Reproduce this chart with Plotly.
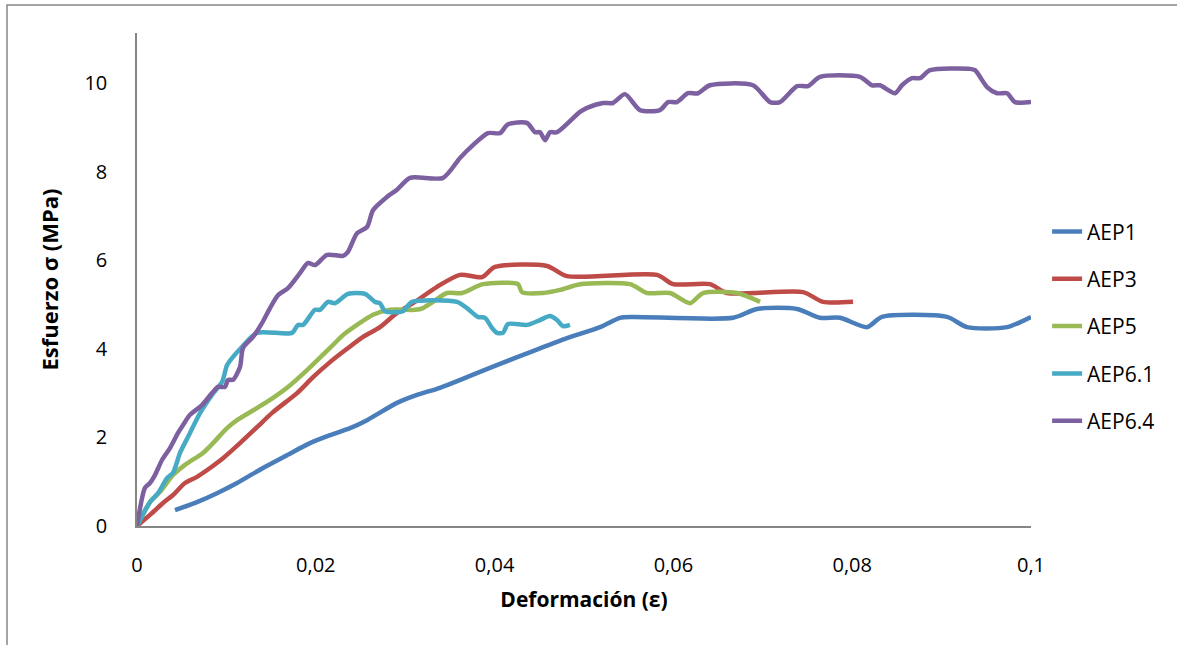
import plotly.graph_objects as go

# AEP1
aep1_x = [0.00425, 0.00671, 0.00895, 0.01119, 0.01409, 0.01678, 0.01935, 0.02159, 0.02383, 0.02573,
          0.02908, 0.03132, 0.03389, 0.03691, 0.0406, 0.0443, 0.0481, 0.05179, 0.05403, 0.05548,
          0.06667, 0.06935, 0.07383, 0.0764, 0.07864, 0.08166, 0.08333, 0.0906, 0.09284, 0.09732, 0.1]
aep1_y = [0.36, 0.54, 0.74, 0.97, 1.31, 1.60, 1.87, 2.05, 2.21, 2.39,
          2.78, 2.96, 3.12, 3.36, 3.66, 3.95, 4.24, 4.49, 4.70, 4.72,
          4.70, 4.90, 4.90, 4.70, 4.70, 4.49, 4.72, 4.72, 4.49, 4.49, 4.72]

# AEP3
aep3_x = [0, 0.00145, 0.00291, 0.00403, 0.00537, 0.00671, 0.00817, 0.00962, 0.01152, 0.01342,
          0.01521, 0.0179, 0.01969, 0.02159, 0.02349, 0.02528, 0.02718, 0.02908, 0.03087, 0.03356,
          0.03613, 0.03859, 0.04004, 0.04586, 0.0481, 0.05817, 0.05996, 0.06409, 0.066, 0.0745,
          0.07673, 0.08009]
aep3_y = [0, 0.25, 0.52, 0.70, 0.97, 1.11, 1.31, 1.53, 1.87, 2.23,
          2.57, 3.00, 3.36, 3.70, 4.00, 4.27, 4.49, 4.81, 5.03, 5.40,
          5.67, 5.62, 5.85, 5.87, 5.64, 5.67, 5.46, 5.46, 5.26, 5.28,
          5.06, 5.06]

# AEP5
aep5_x = [0, 0.00145, 0.00257, 0.00403, 0.00537, 0.00738, 0.0085, 0.01007, 0.01119, 0.01454,
          0.01678, 0.01902, 0.02159, 0.02304, 0.02461, 0.0264, 0.0283, 0.0311, 0.03199, 0.03311,
          0.03468, 0.03635, 0.0387, 0.04262, 0.04306, 0.04541, 0.04732, 0.04955, 0.05515, 0.05705,
          0.05962, 0.06186, 0.06331, 0.06711, 0.06969]
aep5_y = [0, 0.54, 0.77, 1.15, 1.38, 1.65, 1.87, 2.21, 2.39, 2.80,
          3.12, 3.52, 4.02, 4.31, 4.54, 4.77, 4.88, 4.88, 4.92, 5.06,
          5.26, 5.26, 5.46, 5.46, 5.28, 5.26, 5.33, 5.46, 5.46, 5.26,
          5.26, 5.03, 5.26, 5.26, 5.06]

# AEP6.1
aep61_x = [0, 0.00145, 0.00235, 0.00336, 0.00403, 0.00481, 0.0057, 0.00705, 0.00839, 0.00951,
           0.01007, 0.01063, 0.01174, 0.01342, 0.01734, 0.01801, 0.01857, 0.01991, 0.02047, 0.02136,
           0.02215, 0.0236, 0.0255, 0.02662, 0.02718, 0.02774, 0.02975, 0.03076, 0.03579, 0.03691,
           0.03814, 0.03893, 0.03971, 0.04027, 0.04094, 0.0415, 0.04362, 0.04508, 0.0462, 0.04698,
           0.04765, 0.04843]
aep61_y = [0, 0.54, 0.74, 1.08, 1.20, 1.65, 2.01, 2.55, 2.96, 3.25,
           3.63, 3.79, 4.04, 4.36, 4.36, 4.54, 4.54, 4.88, 4.88, 5.06,
           5.03, 5.24, 5.24, 5.06, 5.03, 4.85, 4.85, 5.06, 5.06, 4.92,
           4.72, 4.70, 4.47, 4.36, 4.36, 4.56, 4.54, 4.65, 4.74, 4.65,
           4.51, 4.54]

# AEP6.4
aep64_x = [0, 0.00089, 0.00145, 0.00201, 0.0028, 0.00369, 0.00459, 0.00537, 0.00593, 0.00727,
           0.00839, 0.00906, 0.00984, 0.01018, 0.01074, 0.01152, 0.01186, 0.01298, 0.01398, 0.01488,
           0.01577, 0.01689, 0.01823, 0.01913, 0.01991, 0.02125, 0.02304, 0.0236, 0.02461, 0.02573,
           0.0264, 0.02796, 0.02908, 0.03054, 0.03423, 0.03613, 0.03758, 0.03926, 0.0406, 0.0415,
           0.04362, 0.04452, 0.04508, 0.04564, 0.0462, 0.04698, 0.04955, 0.05034, 0.05213, 0.05324,
           0.05459, 0.05626, 0.0585, 0.0594, 0.0604, 0.06163, 0.06275, 0.06409, 0.0689, 0.07081,
           0.07192, 0.07383, 0.07506, 0.0764, 0.08087, 0.08221, 0.08311, 0.08479, 0.08557, 0.08669,
           0.08758, 0.0887, 0.09318, 0.09374, 0.09508, 0.0962, 0.09732, 0.09821, 0.1]
aep64_y = [0, 0.86, 0.97, 1.15, 1.49, 1.76, 2.10, 2.35, 2.51, 2.73,
           3.00, 3.14, 3.14, 3.30, 3.30, 3.59, 4.02, 4.27, 4.58, 4.92,
           5.21, 5.37, 5.71, 5.94, 5.89, 6.12, 6.10, 6.19, 6.61, 6.75,
           7.13, 7.43, 7.59, 7.86, 7.86, 8.31, 8.60, 8.87, 8.87, 9.07,
           9.10, 8.89, 8.89, 8.71, 8.89, 8.89, 9.35, 9.44, 9.55, 9.55,
           9.75, 9.39, 9.39, 9.57, 9.57, 9.77, 9.77, 9.95, 9.95, 9.57,
           9.57, 9.93, 9.93, 10.14, 10.14, 9.95, 9.95, 9.77, 9.95, 10.11,
           10.11, 10.29, 10.32, 10.29, 9.91, 9.77, 9.77, 9.57, 9.57]

x_ticks = [0, 0.02, 0.04, 0.06, 0.08, 0.1]
x_labels = ["0", "0,02", "0,04", "0,06", "0,08", "0,1"]
y_ticks = [0, 2, 4, 6, 8, 10]

series = [
    ("AEP1", aep1_x, aep1_y, "#4A7EBB"),
    ("AEP3", aep3_x, aep3_y, "#BE4B48"),
    ("AEP5", aep5_x, aep5_y, "#98B954"),
    ("AEP6.1", aep61_x, aep61_y, "#46AAC5"),
    ("AEP6.4", aep64_x, aep64_y, "#7D60A0"),
]

fig = go.Figure()
for i, (name, xs, ys, col) in enumerate(series):
    fig.add_trace(go.Scatter(
        x=xs, y=ys, name=name, mode="lines",
        line=dict(color=col, width=4.5, shape="spline", smoothing=0.7),
        legendgroup=f"g{i}",
    ))

font_family = "Open Sans, Noto Sans, sans-serif"

fig.update_layout(
    width=1177, height=645,
    margin=dict(l=137, r=146, t=33, b=119),
    paper_bgcolor="white", plot_bgcolor="white",
    font=dict(family=font_family, size=20, color="black"),
    showlegend=True,
    legend=dict(
        x=1.018, y=0.405, xanchor="left", yanchor="middle",
        font=dict(size=21, color="black"),
        tracegroupgap=17, itemwidth=30, bgcolor="rgba(0,0,0,0)",
    ),
    xaxis=dict(
        range=[0, 0.1], tickvals=x_ticks, ticktext=x_labels,
        showgrid=False, zeroline=False, showline=True, linecolor="#868686", linewidth=1.5,
        ticks="", ticklabelstandoff=20,
        title=dict(text="<b>Deformación (ε)</b>", font=dict(size=21), standoff=16),
    ),
    yaxis=dict(
        range=[0, 11.13], tickvals=y_ticks,
        showgrid=False, zeroline=False, showline=True, linecolor="#868686", linewidth=1.5,
        ticks="", ticklabelstandoff=24,
        title=dict(text="<b>Esfuerzo σ (MPa)</b>", font=dict(size=22), standoff=20),
    ),
    shapes=[dict(
        type="rect", xref="paper", yref="paper",
        x0=-0.1454, x1=1.2, y0=-0.26, y1=1.0568,
        line=dict(color="#868686", width=1.5), fillcolor="rgba(0,0,0,0)", layer="below",
    )],
)

fig.write_html("out.html")
